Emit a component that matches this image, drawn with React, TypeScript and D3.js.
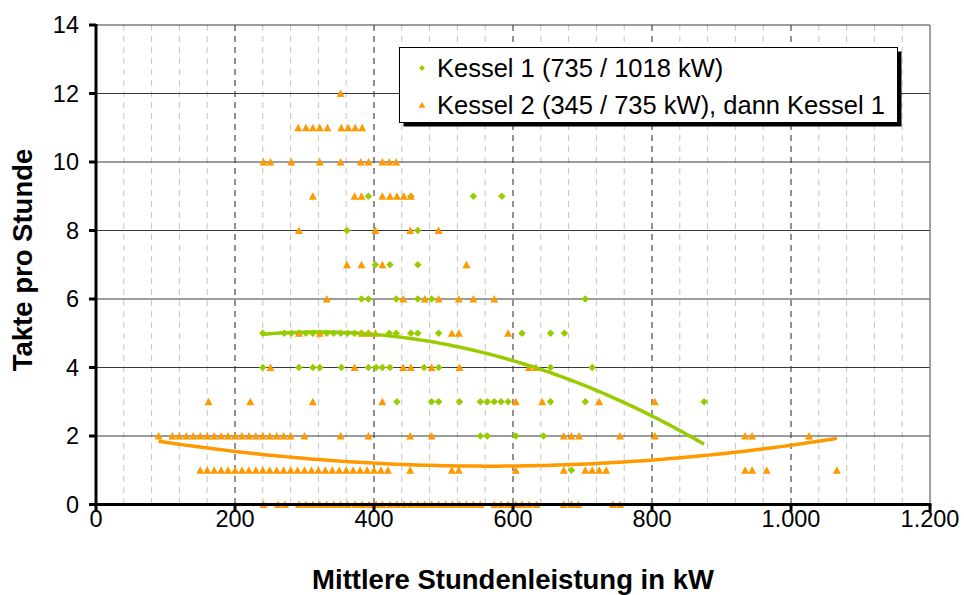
import React from "react";
import * as d3 from "d3";

// ---- Data: Takte pro Stunde (y) vs. mittlere Stundenleistung in kW (x) ----
// Kessel 1 (735 / 1018 kW) — x-values per Takte level
const k1T1 = [684];
const k1T2 = [553, 563, 604, 644];
const k1T3 = [433, 483, 493, 523, 553, 563, 573, 583, 593, 654, 704, 875];
const k1T4 = [240, 292, 312, 322, 353, 392, 403, 412, 423, 472, 493, 654, 714];
const k1T5 = [240, 271, 281, 292, 302, 312, 322, 332, 342, 352, 362, 372, 382, 392, 422, 432, 453, 463, 493, 613, 654, 674];
const k1T6 = [382, 392, 432, 463, 483, 704];
const k1T7 = [402, 423, 463];
const k1T8 = [361, 463];
const k1T9 = [392, 453, 543, 584];

// Kessel 2 (345 / 735 kW), dann Kessel 1 — x-values per Takte level
const k2T0 = [241, 262, 272, 292, 302, 312, 322, 332, 342, 352, 362, 373, 383, 393, 403, 412, 423, 433, 443, 453, 463, 473, 483, 493, 503, 513, 523, 533, 543, 553, 573, 583, 593, 604, 613, 623, 634, 673, 684, 694, 744, 754];
const k2T1 = [150, 160, 170, 180, 190, 200, 210, 220, 230, 240, 250, 260, 270, 280, 290, 300, 310, 320, 330, 340, 350, 360, 370, 380, 390, 400, 410, 420, 452, 512, 522, 604, 673, 704, 714, 724, 734, 934, 944, 965, 1066];
const k2T2 = [90, 110, 120, 130, 140, 150, 160, 170, 180, 190, 200, 210, 220, 230, 240, 250, 260, 270, 280, 300, 352, 392, 452, 483, 673, 684, 695, 754, 804, 934, 944, 1026];
const k2T3 = [162, 222, 312, 412, 604, 642, 724, 804];
const k2T4 = [251, 372, 442, 453, 483, 523, 623, 633];
const k2T5 = [292, 322, 382, 392, 402, 512, 522, 593];
const k2T6 = [332, 442, 473, 493, 522, 543, 573];
const k2T7 = [361, 382, 412, 533];
const k2T8 = [292, 402, 452, 493];
const k2T9 = [312, 372, 382, 412, 423, 433, 443, 453];
const k2T10 = [241, 251, 281, 322, 352, 381, 392, 412, 422, 432];
const k2T11 = [291, 302, 312, 322, 333, 353, 363, 373, 383];
const k2T12 = [352];

// Polynomial trendlines (2nd order) as shown in the chart: y = c0 + c1·x + c2·x²
const k1TrendCoef = [3.957, 0.006762, -1.0597e-5];
const k2TrendCoef = [2.151, -0.00365, 3.23e-6];

const xTicks = [0, 200, 400, 600, 800, 1000, 1200];
const yTicks = [0, 2, 4, 6, 8, 10, 12, 14];
const legendLabels = ["Kessel 1 (735 / 1018 kW)", "Kessel 2 (345 / 735 kW), dann Kessel 1"];
const xTitle = "Mittlere Stundenleistung in kW";
const yTitle = "Takte pro Stunde";

type P = { x: number; y: number };
const build = (levels: [number, number[]][]): P[] =>
  levels.flatMap(([t, xs]) => xs.map((x) => ({ x, y: t })));

const k1Points = build([[1, k1T1], [2, k1T2], [3, k1T3], [4, k1T4], [5, k1T5], [6, k1T6], [7, k1T7], [8, k1T8], [9, k1T9]]);
const k2Points = build([[0, k2T0], [1, k2T1], [2, k2T2], [3, k2T3], [4, k2T4], [5, k2T5], [6, k2T6], [7, k2T7], [8, k2T8], [9, k2T9], [10, k2T10], [11, k2T11], [12, k2T12]]);

const trend = (pts: P[], c: number[]): P[] => {
  const [x0, x1] = d3.extent(pts, (p) => p.x) as [number, number];
  return d3.range(0, 101).map((i) => {
    const x = x0 + ((x1 - x0) * i) / 100;
    return { x, y: c.reduce((acc, ci, k) => acc + ci * Math.pow(x, k), 0) };
  });
};

const GREEN = "#99CC00";
const ORANGE = "#FF9900";
const FONT = "'Liberation Sans', Arial, sans-serif";

const locale = d3.formatLocale({ decimal: ",", thousands: ".", grouping: [3], currency: ["", "€"] });
const fmt = locale.format(",.0f");

export default function App() {
  const W = 964, H = 595;
  const x = d3.scaleLinear().domain([0, 1200]).range([96, 930]);
  const y = d3.scaleLinear().domain([0, 14]).range([504.5, 25]);
  const minor = d3.range(40, 1200, 40).filter((v) => v % 200 !== 0);
  const major = [200, 400, 600, 800, 1000];
  const line = d3.line<P>().x((d) => x(d.x)).y((d) => y(d.y)).curve(d3.curveLinear);
  const diamond = "M0,-3.8L3.8,0L0,3.8L-3.8,0Z";
  const tri = "M0,-4L4,3.4L-4,3.4Z";

  return (
    <svg width={W} height={H} style={{ position: "absolute", left: 0, top: 0, background: "#fff" }} fontFamily={FONT}>
      {/* minor vertical gridlines */}
      {minor.map((v) => (
        <line key={"mi" + v} x1={x(v)} x2={x(v)} y1={y(14)} y2={y(0)} stroke="#c4c4c4" strokeWidth={1} strokeDasharray="6,5" />
      ))}
      {major.map((v) => (
        <line key={"ma" + v} x1={x(v)} x2={x(v)} y1={y(14)} y2={y(0)} stroke="#222" strokeWidth={1} strokeDasharray="6,5" />
      ))}
      {yTicks.filter((t) => t > 0).map((t) => (
        <line key={"h" + t} x1={x(0)} x2={x(1200)} y1={y(t)} y2={y(t)} stroke="#3a3a3a" strokeWidth={1} />
      ))}
      <line x1={x(1200)} x2={x(1200)} y1={y(14)} y2={y(0)} stroke="#808080" strokeWidth={1.5} />

      {/* points */}
      {k1Points.map((p, i) => (
        <path key={"g" + i} d={diamond} transform={`translate(${x(p.x)},${y(p.y)})`} fill={GREEN} />
      ))}
      {k2Points.map((p, i) => (
        <path key={"o" + i} d={tri} transform={`translate(${x(p.x)},${y(p.y)})`} fill={ORANGE} />
      ))}

      {/* trendlines */}
      <path d={line(trend(k1Points, k1TrendCoef)) || ""} fill="none" stroke={GREEN} strokeWidth={3.5} />
      <path d={line(trend(k2Points, k2TrendCoef)) || ""} fill="none" stroke={ORANGE} strokeWidth={3.5} />

      {/* axes */}
      <line x1={x(0)} x2={x(0)} y1={y(14) - 1} y2={y(0) + 1.5} stroke="#000" strokeWidth={3} />
      <line x1={x(0) - 1.5} x2={x(1200) + 1.5} y1={y(0)} y2={y(0)} stroke="#000" strokeWidth={3} />
      {yTicks.map((t) => (
        <g key={"yt" + t}>
          <line x1={x(0) - 7} x2={x(0)} y1={y(t)} y2={y(t)} stroke="#000" strokeWidth={3} />
          <text x={79} y={y(t)} dy="0.36em" textAnchor="end" fontSize={23.5} fill="#000">{t}</text>
        </g>
      ))}
      {xTicks.map((t) => (
        <g key={"xt" + t}>
          <line x1={x(t)} x2={x(t)} y1={y(0)} y2={y(0) + 7} stroke="#000" strokeWidth={3} />
          <text x={x(t)} y={527} textAnchor="middle" fontSize={23.5} fill="#000">{fmt(t)}</text>
        </g>
      ))}

      {/* titles */}
      <text x={513} y={588.5} textAnchor="middle" fontSize={27.5} fontWeight="bold" fill="#000">{xTitle}</text>
      <text transform={`translate(32,260) rotate(-90)`} textAnchor="middle" fontSize={27.5} fontWeight="bold" fill="#000">{yTitle}</text>

      {/* legend */}
      <rect x={403.5} y={51.5} width={498} height={75} fill="#000" />
      <rect x={399.5} y={47.5} width={498} height={75} fill="#fff" stroke="#000" strokeWidth={1} />
      <path d="M0,-3L3,0L0,3L-3,0Z" transform="translate(422,68)" fill={GREEN} />
      <path d="M0,-3.3L3.3,2.8L-3.3,2.8Z" transform="translate(422,105)" fill={ORANGE} />
      <text x={437} y={76.8} fontSize={25.5} fill="#000">{legendLabels[0]}</text>
      <text x={437} y={114} fontSize={25.5} fill="#000">{legendLabels[1]}</text>
    </svg>
  );
}
